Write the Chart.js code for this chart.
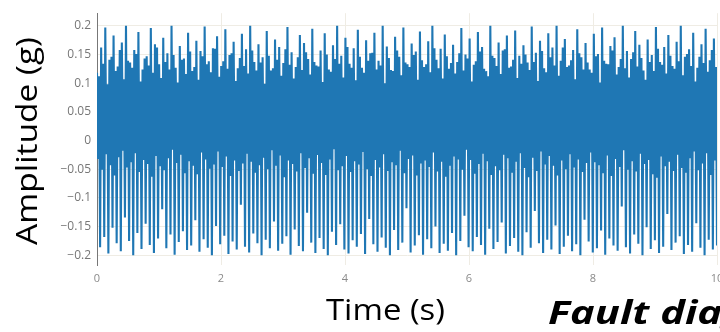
<!DOCTYPE html>
<html>
<head>
<meta charset="utf-8">
<script src="https://cdn.jsdelivr.net/npm/chart.js@4.4.1/dist/chart.umd.min.js"></script>
<style>
  html, body { margin: 0; padding: 0; background: #fff; }
  #wrap { width: 720px; height: 332px; position: relative; }
</style>
</head>
<body>
<div id="wrap"><canvas id="signalChart"></canvas></div>
<script>
// vibration record: each cycle is peak, dip, peak, trough
const peaksA = [
  0.118,0.162,0.197,0.141,0.183,0.129,0.171,0.2,0.136,0.158,
  0.189,0.124,0.147,0.196,0.168,0.133,0.179,0.152,0.2,0.127,
  0.165,0.143,0.188,0.121,0.174,0.156,0.199,0.138,0.161,0.182,
  0.13,0.194,0.149,0.172,0.126,0.186,0.159,0.2,0.137,0.168,
  0.145,0.191,0.122,0.176,0.163,0.135,0.198,0.154,0.128,0.184,
  0.17,0.142,0.195,0.131,0.157,0.187,0.124,0.166,0.2,0.148,
  0.179,0.134,0.161,0.193,0.127,0.175,0.152,0.188,0.139,0.2,
  0.164,0.123,0.181,0.146,0.197,0.133,0.169,0.155,0.19,0.128,
  0.173,0.2,0.141,0.16,0.185,0.125,0.167,0.137,0.196,0.15,
  0.178,0.132,0.189,0.163,0.121,0.2,0.144,0.171,0.157,0.183,
  0.129,0.192,0.148,0.166,0.136,0.199,0.153,0.174,0.126,0.187,
  0.162,0.2,0.139,0.177,0.131,0.158,0.194,0.145,0.17,0.124,
  0.186,0.151,0.197,0.134,0.165,0.18,0.128,0.2,0.156,0.142,
  0.191,0.167,0.122,0.176,0.149,0.198,0.137,0.163,0.184,0.13,
  0.172,0.2,0.146,0.159,0.188,0.127,0.168,0.195,0.14,0.178
];
const dips = [
  -0.032,-0.051,-0.024,-0.043,-0.061,-0.029,-0.018,-0.047,-0.038,-0.022,
  -0.055,-0.034,-0.041,-0.063,-0.027,-0.045,-0.052,-0.031,-0.016,-0.039,
  -0.025,-0.057,-0.036,-0.044,-0.059,-0.021,-0.033,-0.049,-0.042,-0.019,
  -0.046,-0.028,-0.062,-0.035,-0.053,-0.04,-0.023,-0.037,-0.056,-0.043,
  -0.03,-0.05,-0.017,-0.044,-0.026,-0.064,-0.035,-0.041,-0.054,-0.022,
  -0.048,-0.031,-0.058,-0.025,-0.039,-0.06,-0.033,-0.015,-0.052,-0.045,
  -0.027,-0.055,-0.036,-0.042,-0.02,-0.05,-0.062,-0.034,-0.047,-0.024,
  -0.053,-0.038,-0.043,-0.018,-0.057,-0.032,-0.026,-0.061,-0.04,-0.035,
  -0.046,-0.021,-0.054,-0.037,-0.063,-0.044,-0.028,-0.033,-0.051,-0.016,
  -0.034,-0.058,-0.041,-0.023,-0.036,-0.06,-0.045,-0.052,-0.025,-0.031,
  -0.056,-0.037,-0.022,-0.048,-0.064,-0.03,-0.053,-0.019,-0.042,-0.027,
  -0.044,-0.061,-0.035,-0.05,-0.024,-0.047,-0.033,-0.055,-0.039,-0.021,
  -0.038,-0.043,-0.057,-0.026,-0.062,-0.032,-0.046,-0.017,-0.051,-0.036,
  -0.054,-0.023,-0.041,-0.034,-0.059,-0.065,-0.028,-0.045,-0.037,-0.053,
  -0.025,-0.048,-0.056,-0.031,-0.019,-0.052,-0.04,-0.022,-0.06,-0.035
];
const peaksB = [
  0.112,0.134,0.098,0.146,0.121,0.158,0.107,0.139,0.127,0.151,
  0.103,0.143,0.131,0.118,0.162,0.109,0.137,0.124,0.149,0.101,
  0.141,0.116,0.155,0.128,0.106,0.147,0.133,0.119,0.16,0.111,
  0.138,0.125,0.152,0.104,0.144,0.13,0.117,0.157,0.122,0.136,
  0.099,0.148,0.126,0.141,0.113,0.159,0.132,0.108,0.145,0.123,
  0.154,0.115,0.137,0.129,0.102,0.15,0.12,0.142,0.134,0.11,
  0.163,0.127,0.105,0.146,0.118,0.139,0.153,0.124,0.131,0.1,
  0.144,0.121,0.157,0.114,0.136,0.128,0.149,0.106,0.14,0.133,
  0.119,0.161,0.126,0.108,0.147,0.135,0.117,0.152,0.122,0.143,
  0.103,0.138,0.155,0.125,0.112,0.148,0.13,0.116,0.159,0.127,
  0.141,0.109,0.134,0.15,0.123,0.137,0.104,0.156,0.119,0.145,
  0.131,0.113,0.162,0.128,0.14,0.107,0.152,0.124,0.136,0.118,
  0.147,0.101,0.139,0.133,0.157,0.115,0.142,0.126,0.11,0.154,
  0.129,0.144,0.106,0.137,0.121,0.16,0.132,0.117,0.148,0.125,
  0.138,0.114,0.151,0.13,0.103,0.146,0.135,0.12,0.158,0.128
];
const troughs = [
  -0.186,-0.168,-0.197,-0.152,-0.179,-0.193,-0.134,-0.175,-0.2,-0.161,
  -0.189,-0.145,-0.182,-0.196,-0.171,-0.12,-0.188,-0.164,-0.199,-0.177,
  -0.158,-0.191,-0.183,-0.139,-0.194,-0.172,-0.187,-0.2,-0.149,-0.181,
  -0.166,-0.198,-0.176,-0.19,-0.112,-0.185,-0.195,-0.162,-0.179,-0.2,
  -0.173,-0.188,-0.141,-0.192,-0.18,-0.167,-0.199,-0.155,-0.184,-0.193,
  -0.126,-0.178,-0.196,-0.17,-0.189,-0.2,-0.159,-0.182,-0.146,-0.19,
  -0.197,-0.174,-0.185,-0.163,-0.198,-0.137,-0.181,-0.194,-0.169,-0.187,
  -0.2,-0.156,-0.191,-0.178,-0.118,-0.195,-0.183,-0.165,-0.199,-0.172,
  -0.188,-0.15,-0.196,-0.18,-0.192,-0.161,-0.2,-0.175,-0.131,-0.186,
  -0.193,-0.168,-0.182,-0.199,-0.154,-0.189,-0.177,-0.143,-0.197,-0.184,
  -0.17,-0.194,-0.2,-0.16,-0.187,-0.123,-0.179,-0.196,-0.173,-0.19,
  -0.148,-0.198,-0.185,-0.166,-0.193,-0.181,-0.2,-0.138,-0.176,-0.195,
  -0.188,-0.157,-0.199,-0.171,-0.183,-0.192,-0.115,-0.186,-0.197,-0.164,
  -0.18,-0.2,-0.151,-0.189,-0.174,-0.196,-0.185,-0.128,-0.191,-0.178,
  -0.167,-0.198,-0.182,-0.194,-0.144,-0.187,-0.2,-0.173,-0.19,-0.183
];
const yTicks = [0.2, 0.15, 0.1, 0.05, 0, -0.05, -0.1, -0.15, -0.2];
const xTicks = [0, 2, 4, 6, 8, 10];
const duration = 10; // seconds

// interleave the cycles into one sampled trace
const samples = [];
for (let i = 0; i < peaksA.length; i++) {
  samples.push(peaksA[i], dips[i], peaksB[i], troughs[i]);
}
const dt = duration / (samples.length - 1);
const points = samples.map((v, k) => ({ x: k * dt, y: v }));

// free text around the plot (axis titles, clipped caption)
const labelsPlugin = {
  id: 'labels',
  afterDraw(chart) {
    const ctx = chart.ctx;
    const squeeze = (fitText, font, width) => {
      ctx.font = font;
      return width / ctx.measureText(fitText).width;
    };
    ctx.save();
    ctx.fillStyle = '#000';
    ctx.textBaseline = 'alphabetic';
    ctx.textAlign = 'left';

    // y title, rotated
    let font = '29px "Open Sans"';
    let sx = squeeze('Amplitude (g)', font, 208);
    ctx.save();
    ctx.translate(37, 245);
    ctx.rotate(-Math.PI / 2);
    ctx.scale(sx, 1);
    ctx.fillText('Amplitude (g)', 0, 0);
    ctx.restore();

    // x title
    font = '29px "Open Sans"';
    sx = squeeze('Time (s)', font, 119);
    ctx.save();
    ctx.translate(326, 320);
    ctx.scale(sx, 1);
    ctx.fillText('Time (s)', 0, 0);
    ctx.restore();

    // caption running off the right edge
    font = 'italic bold 33px "Open Sans"';
    sx = squeeze('Fault dia', font, 174);
    ctx.save();
    ctx.translate(548, 324);
    ctx.scale(sx, 1);
    ctx.fillText('Fault diagnosis', 0, 0);
    ctx.restore();

    ctx.restore();
  }
};

const fmt = v => (v < 0 ? '\u2212' + String(-v) : String(v));

new Chart(document.getElementById('signalChart'), {
  type: 'line',
  data: {
    datasets: [{
      data: points,
      borderColor: '#1f77b4',
      borderWidth: 2.1,
      pointRadius: 0,
      tension: 0,
      fill: false,
    }],
  },
  options: {
    responsive: true,
    maintainAspectRatio: false,
    animation: false,
    events: [],
    layout: { padding: { top: 8, right: 3, bottom: 0, left: 0 } },
    plugins: { legend: { display: false }, tooltip: { enabled: false } },
    scales: {
      x: {
        type: 'linear',
        min: 0,
        max: duration,
        afterBuildTicks: s => { s.ticks = xTicks.map(v => ({ value: v })); },
        afterFit: s => { s.height = 67; s.paddingRight = 0; },
        grid: { color: '#efece4', drawTicks: false },
        border: { display: false },
        ticks: { color: '#8a8a8a', padding: 7, font: { family: 'Open Sans', size: 11 }, maxRotation: 0 },
      },
      y: {
        min: -0.217,
        max: 0.222,
        afterBuildTicks: s => { s.ticks = yTicks.map(v => ({ value: v })); },
        afterFit: s => { s.width = 97; },
        grid: { color: '#efece4', drawTicks: false },
        border: { display: true, color: '#777', width: 1 },
        ticks: {
          color: '#777',
          padding: 6,
          font: { family: 'Open Sans', size: 12 },
          callback: v => fmt(v),
        },
      },
    },
  },
  plugins: [labelsPlugin],
});
</script>
</body>
</html>
